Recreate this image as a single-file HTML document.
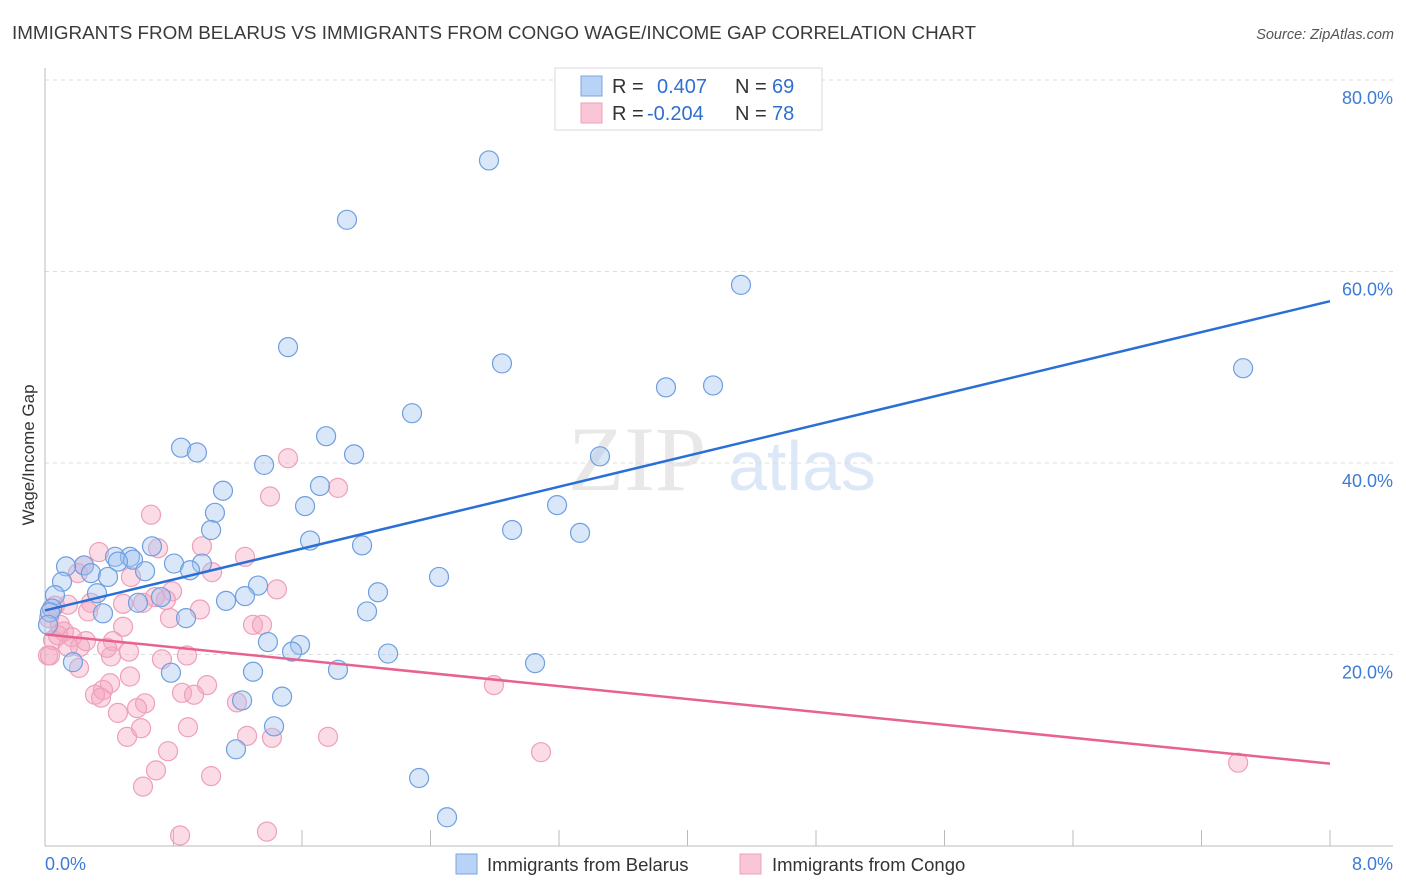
<!DOCTYPE html>
<html><head><meta charset="utf-8"><style>
body{margin:0;background:#fff;font-family:"Liberation Sans",sans-serif;}
svg{display:block}
</style></head><body>
<svg id="chart" width="1406" height="892" viewBox="0 0 1406 892" xmlns="http://www.w3.org/2000/svg">
<text x="12" y="39" font-size="18" fill="#3a3a3a" textLength="964" lengthAdjust="spacingAndGlyphs">IMMIGRANTS FROM BELARUS VS IMMIGRANTS FROM CONGO WAGE/INCOME GAP CORRELATION CHART</text>
<text x="1394" y="39" font-size="14.5" fill="#555" text-anchor="end" font-style="italic">Source: ZipAtlas.com</text>
<g>
<text x="637" y="490" font-size="92" fill="#e8e8e8" text-anchor="middle" font-family="Liberation Serif,serif">ZIP</text>
<text x="802" y="490" font-size="70" fill="#dce8f7" text-anchor="middle">atlas</text>
</g>
<g id="grid"></g>
<g id="axes"></g>
<g id="marks"></g>
<g>
<rect x="555" y="68" width="267" height="62" fill="#fff" stroke="#d8d8d8"/>
<rect x="581" y="76" width="21" height="20" fill="#b8d3f5" stroke="#7aa6e0"/>
<rect x="581" y="103" width="21" height="20" fill="#f9c6d5" stroke="#f0a2bb"/>
<text x="612" y="93" font-size="20" fill="#333">R =</text>
<text x="657" y="93" font-size="20" fill="#2f6fd0">0.407</text>
<text x="735" y="93" font-size="20" fill="#333">N =</text>
<text x="772" y="93" font-size="20" fill="#2f6fd0">69</text>
<text x="612" y="120" font-size="20" fill="#333">R =</text>
<text x="647" y="120" font-size="20" fill="#2f6fd0">-0.204</text>
<text x="735" y="120" font-size="20" fill="#333">N =</text>
<text x="772" y="120" font-size="20" fill="#2f6fd0">78</text>
</g>
<text transform="translate(34,455) rotate(-90)" font-size="17" fill="#333" text-anchor="middle">Wage/Income Gap</text>
<g>
<rect x="456" y="854" width="21" height="20" fill="#b8d3f5" stroke="#7aa6e0"/>
<text x="487" y="871" font-size="18.5" fill="#333">Immigrants from Belarus</text>
<rect x="740" y="854" width="21" height="20" fill="#f9c6d5" stroke="#f0a2bb"/>
<text x="772" y="871" font-size="18.5" fill="#333">Immigrants from Congo</text>
</g>
</svg>
<script>
const xTicks=[0,0.8,1.6,2.4,3.2,4.0,4.8,5.6,6.4,7.2,8.0];
const yTicks=[20,40,60,80];
const yTickLabels=["20.0%","40.0%","60.0%","80.0%"];
const xTickLabels=["0.0%","8.0%"];
const belarusX=[2.764,1.880,4.333,1.513,2.845,7.459,3.866,4.159,2.285,0.847,0.946,1.750,1.924,1.364,3.455,1.108,1.712,1.058,1.619,1.034,3.188,2.908,3.331,1.650,1.974,0.666,0.436,0.529,0.548,0.243,0.454,0.131,0.803,0.977,0.286,0.392,0.623,0.106,0.903,2.453,1.326,2.073,0.062,0.324,0.722,0.579,1.245,1.127,2.005,0.044,0.361,0.878,1.388,1.588,1.538,2.136,3.051,0.174,1.824,0.784,1.295,1.227,1.476,1.426,1.189,2.329,2.503,0.031,0.019];
const belarusY=[71.6,65.4,58.6,52.1,50.4,49.9,47.9,48.1,45.2,41.6,41.1,42.8,40.9,39.8,40.7,37.1,37.6,34.8,35.5,33.0,35.6,33.0,32.7,31.9,31.4,31.3,30.2,30.2,29.9,29.3,29.7,29.2,29.5,29.5,28.5,28.1,28.7,27.6,28.8,28.1,27.2,26.5,26.2,26.4,26.0,25.4,26.1,25.6,24.5,24.8,24.3,23.8,21.3,21.0,20.3,20.1,19.1,19.2,18.4,18.1,18.2,15.2,15.6,12.5,10.1,7.1,3.0,24.4,23.1];
const congoX=[0.660,1.513,1.824,1.401,1.245,0.336,0.704,0.977,0.243,0.205,0.535,0.791,1.040,1.444,0.610,0.685,0.486,0.753,0.286,0.143,0.268,0.062,0.025,0.093,0.118,0.168,0.050,0.218,0.255,0.423,0.411,0.523,0.386,0.884,0.778,0.965,1.295,1.351,0.486,0.728,0.143,0.212,0.019,0.529,0.405,0.361,0.311,0.349,1.009,0.853,0.928,1.195,0.623,0.573,0.454,0.890,1.258,1.413,1.762,0.511,0.598,0.766,0.691,0.610,1.034,0.841,1.382,2.795,3.088,7.428,0.031,0.081];
const congoY=[34.6,40.5,37.4,36.5,30.2,30.7,31.1,31.3,29.3,28.5,28.1,26.6,28.6,26.8,25.4,26.0,25.3,25.7,25.4,25.2,24.5,25.1,23.8,23.1,22.4,21.8,21.5,20.8,21.4,21.4,19.8,20.3,20.7,19.9,23.8,24.7,23.1,23.1,22.9,19.5,20.8,18.6,19.9,17.7,17.0,16.3,15.8,15.5,16.8,16.0,15.8,15.0,14.9,14.4,13.9,12.4,11.5,11.3,11.4,11.4,12.3,9.9,7.9,6.2,7.3,1.1,1.5,16.8,9.8,8.7,19.9,22.0];
const belarusTrend=[24.6,56.9];
const congoTrend=[22.1,8.6];

const NS="http://www.w3.org/2000/svg";
const X=v=>45+v/8*1285;
const Y=v=>846-v/20*191.5;
function mk(tag,attrs,parent){const e=document.createElementNS(NS,tag);for(const k in attrs)e.setAttribute(k,attrs[k]);parent.appendChild(e);return e;}
const grid=document.getElementById('grid'),axes=document.getElementById('axes'),marks=document.getElementById('marks');
yTicks.forEach((t,i)=>{
  const l=mk('line',{x1:45,x2:1393,y1:Y(t),y2:Y(t),stroke:'#dcdcdc','stroke-dasharray':'4,4'},grid);
  
  
  const tx=mk('text',{x:1393,y:Y(t)+24,'font-size':18,fill:'#3d7bd6','text-anchor':'end'},axes);
  tx.textContent=yTickLabels[i];
  
  
});
const ax=mk('line',{x1:45,x2:45,y1:68,y2:846,stroke:'#bbb'},axes);


const bx=mk('line',{x1:45,x2:1393,y1:846,y2:846,stroke:'#bbb'},axes);


xTicks.forEach(t=>{
  const l=mk('line',{x1:X(t),x2:X(t),y1:830,y2:846,stroke:'#bbb'},axes);
  
  
});
const xl0=mk('text',{x:45,y:870,'font-size':18,fill:'#3d7bd6'},axes);
xl0.textContent=xTickLabels[0];


const xl1=mk('text',{x:1393,y:870,'font-size':18,fill:'#3d7bd6','text-anchor':'end'},axes);
xl1.textContent=xTickLabels[1];


function dots(xs,ys,fill,stroke,name){
  xs.forEach((v,i)=>{
    const c=mk('circle',{cx:X(v),cy:Y(ys[i]),r:9.5,fill:fill,stroke:stroke,'stroke-width':1.2},marks);
    
    
  });
}
dots(congoX,congoY,'rgba(244,166,192,0.4)','#eea0b9','point-congo');
dots(belarusX,belarusY,'rgba(160,196,240,0.4)','#6f9fe0','point-belarus');
const tb=mk('line',{x1:X(0),y1:Y(belarusTrend[0]),x2:X(8),y2:Y(belarusTrend[1]),stroke:'#2a6fd6','stroke-width':2.5},marks);


const tc=mk('line',{x1:X(0),y1:Y(congoTrend[0]),x2:X(8),y2:Y(congoTrend[1]),stroke:'#e8628f','stroke-width':2.5},marks);


</script>
</body></html>
